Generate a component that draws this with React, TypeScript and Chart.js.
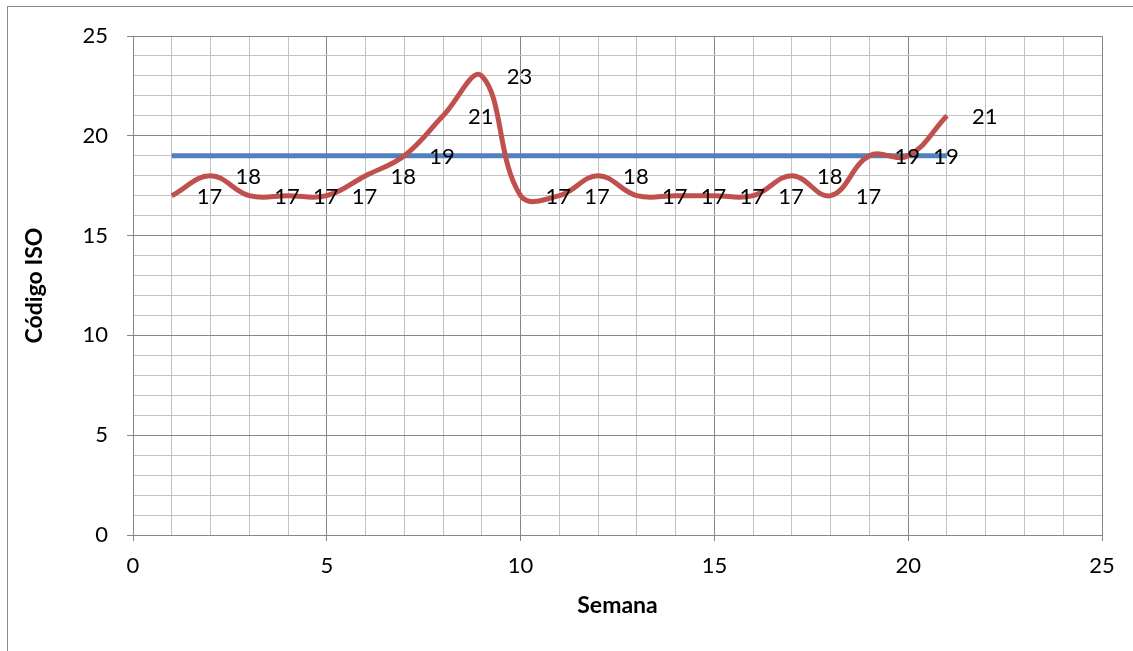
import React, { useEffect, useRef } from 'react';
import { Chart, registerables } from 'chart.js';

Chart.register(...registerables);

const weeks = [1, 2, 3, 4, 5, 6, 7, 8, 9, 10, 11, 12, 13, 14, 15, 16, 17, 18, 19, 20, 21];
const isoValues = [17, 18, 17, 17, 17, 18, 19, 21, 23, 17, 17, 18, 17, 17, 17, 17, 18, 17, 19, 19, 21];
const targetValues = [19, 19, 19, 19, 19, 19, 19, 19, 19, 19, 19, 19, 19, 19, 19, 19, 19, 19, 19, 19, 19];
const xTickLabels = [0, 5, 10, 15, 20, 25];
const yTickLabels = [0, 5, 10, 15, 20, 25];

const FONT = 'Lato, "Open Sans", sans-serif';
const MAJOR = '#868686';
const MINOR = '#c3c3c3';

export default function App() {
  const canvasRef = useRef<HTMLCanvasElement | null>(null);

  useEffect(() => {
    const canvas = canvasRef.current;
    if (!canvas) return;

    const frame = {
      id: 'frame',
      beforeDraw(chart: any) {
        const ctx = chart.ctx;
        ctx.save();
        ctx.fillStyle = '#ffffff';
        ctx.fillRect(0, 0, chart.width, chart.height);
        ctx.strokeStyle = '#8c8c8c';
        ctx.lineWidth = 1;
        ctx.strokeRect(7.5, 6.5, 2000, 2000);
        ctx.restore();
      },
    };

    const pointLabels = {
      id: 'pointLabels',
      afterDatasetsDraw(chart: any) {
        const ctx = chart.ctx;
        const meta = chart.getDatasetMeta(0);
        ctx.save();
        ctx.font = `22px ${FONT}`;
        ctx.fillStyle = '#000000';
        ctx.textAlign = 'left';
        ctx.textBaseline = 'middle';
        meta.data.forEach((pt: any, i: number) => {
          ctx.fillText(String(isoValues[i]), pt.x + 25, pt.y + 1);
        });
        ctx.restore();
      },
    };

    const gridColor = (c: any) => (c.tick && c.tick.value % 5 === 0 ? MAJOR : MINOR);
    const tickColor = (c: any) => (c.tick && c.tick.value % 5 === 0 ? MAJOR : 'rgba(0,0,0,0)');

    const chart = new Chart(canvas, {
      type: 'line',
      data: {
        datasets: [
          {
            label: 'Código ISO',
            data: weeks.map((w, i) => ({ x: w, y: isoValues[i] })),
            borderColor: '#C0504D',
            borderWidth: 5,
            pointRadius: 0,
            tension: 0.4,
            fill: false,
            order: 0,
          },
          {
            label: 'Objetivo',
            data: weeks.map((w, i) => ({ x: w, y: targetValues[i] })),
            borderColor: '#4F81BD',
            borderWidth: 5,
            pointRadius: 0,
            tension: 0,
            fill: false,
            order: 1,
          },
        ],
      },
      options: {
        animation: false,
        responsive: false,
        maintainAspectRatio: false,
        layout: { padding: { top: 36, right: 31, left: 0, bottom: 0 } },
        plugins: {
          legend: { display: false },
          tooltip: { enabled: false },
        },
        scales: {
          x: {
            type: 'linear',
            min: 0,
            max: 25,
            afterFit: (s: any) => {
              s.height = 116;
            },
            ticks: {
              stepSize: 1,
              autoSkip: false,
              maxRotation: 0,
              padding: 12,
              color: '#000000',
              font: { family: FONT, size: 22 },
              callback: (v: any) => (xTickLabels.includes(Number(v)) ? String(v) : ''),
            },
            grid: { color: gridColor, tickColor, tickLength: 6, lineWidth: 1 },
            border: { color: MAJOR, width: 1 },
            title: {
              display: true,
              text: 'Semana',
              color: '#000000',
              font: { family: FONT, size: 23, weight: 'bold' },
              padding: { top: 0, bottom: 32 },
            },
          },
          y: {
            type: 'linear',
            min: 0,
            max: 25,
            afterFit: (s: any) => {
              s.width = 133;
            },
            ticks: {
              stepSize: 1,
              autoSkip: false,
              padding: 19,
              color: '#000000',
              font: { family: FONT, size: 22 },
              callback: (v: any) => (yTickLabels.includes(Number(v)) ? String(v) : ''),
            },
            grid: { color: gridColor, tickColor, tickLength: 6, lineWidth: 1 },
            border: { color: MAJOR, width: 1 },
            title: {
              display: true,
              text: 'Código ISO',
              color: '#000000',
              font: { family: FONT, size: 23, weight: 'bold' },
              padding: { top: 21, bottom: 0 },
            },
          },
        },
      },
      plugins: [frame, pointLabels],
    });

    return () => chart.destroy();
  }, []);

  return (
    <div style={{ position: 'fixed', left: 0, top: 0, width: 1133, height: 651 }}>
      <canvas ref={canvasRef} width={1133} height={651} style={{ width: 1133, height: 651, display: 'block' }} />
    </div>
  );
}
